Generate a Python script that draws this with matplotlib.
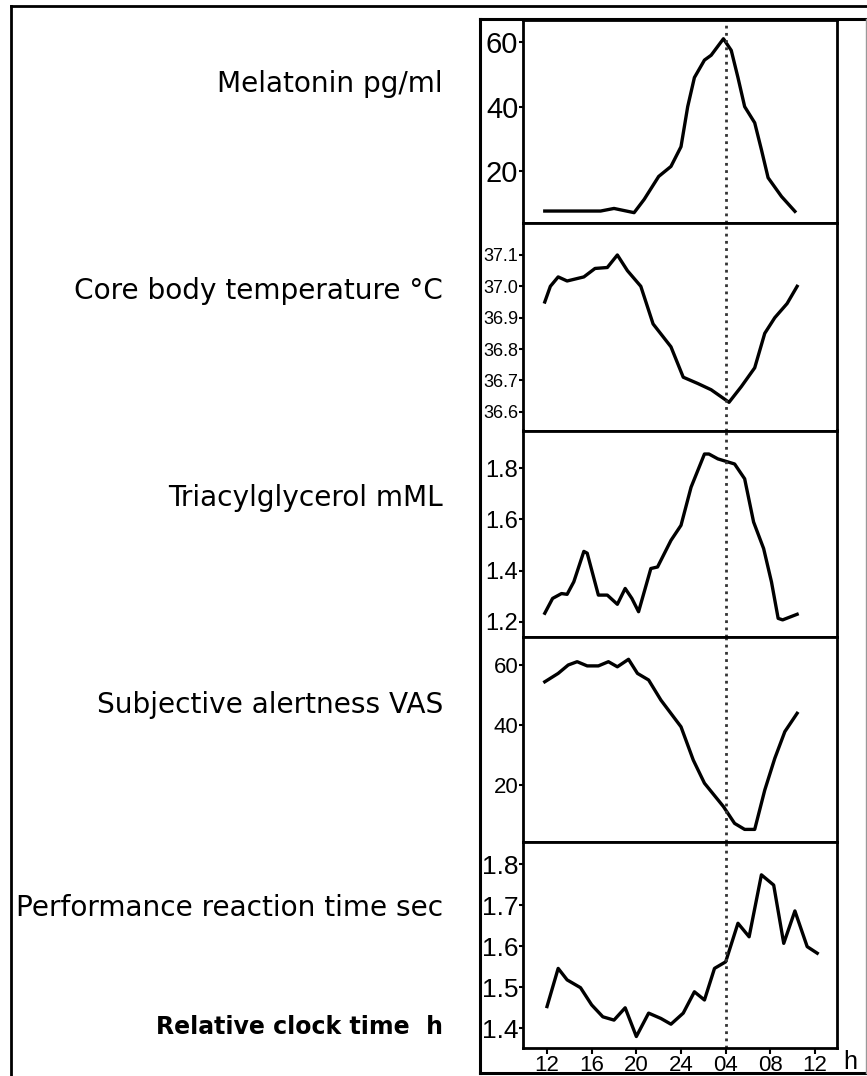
import matplotlib
matplotlib.use("Agg")
import matplotlib.pyplot as plt
from matplotlib.lines import Line2D

W, H = 867, 1076

# clock time in hours (12 = noon, 36 = noon next day)
mel_t = [11.8, 13, 15, 16.8, 18, 19.8, 20.7, 22, 23.1, 24, 24.6, 25.2, 26.1, 26.7, 27.8,
         28.5, 29.1, 29.7, 30.6, 31.2, 31.8, 33, 34.2]
mel_v = [7.7, 7.7, 7.7, 7.7, 8.5, 7.2, 11.3, 18.4, 21.5, 27.6, 40, 49, 54.4, 55.9, 61,
         57.4, 49, 40, 35, 26.7, 18, 12.2, 7.6]

temp_t = [11.8, 12.3, 13, 13.8, 15.3, 16.3, 17.4, 18.3, 19.2, 20.4, 21.5, 23.1, 24.2,
          25.5, 26.7, 28.3, 29.4, 30.6, 31.5, 32.4, 33.5, 34.4]
temp_v = [36.95, 37.0, 37.03, 37.017, 37.03, 37.057, 37.06, 37.1, 37.05, 37.0, 36.88,
          36.807, 36.71, 36.69, 36.67, 36.63, 36.68, 36.74, 36.85, 36.9, 36.945, 37.0]

tag_t = [11.8, 12.5, 13.3, 13.8, 14.4, 15.3, 15.6, 16.6, 17.4, 18.3, 19.0, 19.6, 20.2,
         21.3, 21.9, 23.1, 24.0, 24.9, 26.1, 26.5, 27.3, 28.8, 29.7, 30.5, 31.4, 32.1,
         32.7, 33.1, 34.4]
tag_v = [1.233, 1.291, 1.31, 1.307, 1.356, 1.475, 1.468, 1.304, 1.304, 1.268, 1.33, 1.291,
         1.239, 1.408, 1.414, 1.518, 1.577, 1.726, 1.856, 1.856, 1.837, 1.817, 1.759, 1.59,
         1.486, 1.356, 1.213, 1.207, 1.229]

alert_t = [11.8, 13, 13.9, 14.7, 15.6, 16.6, 17.5, 18.3, 19.3, 20.1, 21.1, 22.2, 24.0,
           25.1, 26.1, 27.8, 28.8, 29.7, 30.6, 31.5, 32.4, 33.3, 34.4]
alert_v = [54.4, 57.2, 60, 61.1, 59.7, 59.7, 61.1, 59.4, 61.9, 57.2, 55, 48.3, 39.4,
           28.3, 20.6, 12.8, 7.2, 5.2, 5.2, 18.3, 28.9, 37.8, 43.9]

rt_t = [12, 13, 13.8, 15, 16, 17, 18, 19, 20, 21.1, 22.2, 23.1, 24.2, 25.2, 26.1, 27,
        28, 29.1, 30.1, 31.2, 32.3, 33.2, 34.2, 35.3, 36.2]
rt_v = [1.453, 1.546, 1.518, 1.499, 1.457, 1.428, 1.42, 1.45, 1.38, 1.437, 1.424, 1.41,
        1.437, 1.489, 1.469, 1.546, 1.562, 1.656, 1.623, 1.774, 1.749, 1.607, 1.686,
        1.599, 1.583]

labels = ["Melatonin pg/ml", "Core body temperature \u00b0C", "Triacylglycerol mML",
          "Subjective alertness VAS", "Performance reaction time sec"]
xticks = [12, 16, 20, 24, 28, 32, 36]
xticklabels = ["12", "16", "20", "24", "04", "08", "12"]

panels = [
    (mel_t, mel_v, (4.0, 66.8), [20, 40, 60], ["20", "40", "60"], 21),
    (temp_t, temp_v, (36.54, 37.202), [36.6, 36.7, 36.8, 36.9, 37.0, 37.1],
     ["36.6", "36.7", "36.8", "36.9", "37.0", "37.1"], 13),
    (tag_t, tag_v, (1.142, 1.948), [1.2, 1.4, 1.6, 1.8], ["1.2", "1.4", "1.6", "1.8"], 17),
    (alert_t, alert_v, (1.0, 69.5), [20, 40, 60], ["20", "40", "60"], 16),
    (rt_t, rt_v, (1.352, 1.854), [1.4, 1.5, 1.6, 1.7, 1.8],
     ["1.4", "1.5", "1.6", "1.7", "1.8"], 19),
]
# pixel boundaries of the stacked panels
edges = [20, 223, 430.5, 636.5, 842, 1048]
label_y = [84, 291, 498, 705, 908]

fig = plt.figure(figsize=(W / 100, H / 100), dpi=100)
fig.patch.set_facecolor("white")

left, right = 523, 837
arial = ["Liberation Sans", "DejaVu Sans"]

for i, (t, v, ylim, yt, ytl, fs) in enumerate(panels):
    top, bot = edges[i], edges[i + 1]
    ax = fig.add_axes([left / W, 1 - bot / H, (right - left) / W, (bot - top) / H])
    ax.plot(t, v, color="black", lw=2.4, solid_joinstyle="round")
    ax.axvline(28, color="#333333", lw=2, linestyle=(0, (1, 1.6)))
    ax.set_xlim(9.85, 37.97)
    ax.set_ylim(*ylim)
    ax.set_yticks(yt)
    ax.set_yticklabels(ytl, family=arial, fontsize=fs)
    ax.tick_params(axis="y", direction="out", length=3, width=1.5, pad=0.5)
    for s in ax.spines.values():
        s.set_linewidth(2)
    if i < 4:
        ax.set_xticks([])
    else:
        ax.set_xticks(xticks)
        ax.set_xticklabels(xticklabels, family=arial, fontsize=16)
        ax.tick_params(axis="x", direction="out", length=4, width=1.5, pad=1)
    fig.text(443 / W, 1 - label_y[i] / H, labels[i], ha="right", va="center",
             fontsize=20.2, family="DejaVu Sans")

fig.text(443 / W, 1 - 1027 / H, "Relative clock time  h", ha="right", va="center",
         fontsize=17, fontweight="bold", family="DejaVu Sans")
fig.text(850 / W, 1 - 1062 / H, "h", ha="center", va="center", fontsize=18,
         family=arial)

# outer frame lines and inner box around the panels
def fline(xs, ys, **kw):
    fig.add_artist(Line2D([x / W for x in xs], [1 - y / H for y in ys],
                          transform=fig.transFigure, **kw))

fline([11, 11], [6, H], color="black", lw=2)
fline([11, W], [6, 6], color="black", lw=2)
fline([480, 480], [19, 1073], color="black", lw=2.2)
fline([480, 866], [19, 19], color="black", lw=2.2)
fline([480, 866], [1073, 1073], color="black", lw=2.2)
fline([866, 866], [19, 1073], color="#999999", lw=1)

fig.savefig("out.png", dpi=100)
